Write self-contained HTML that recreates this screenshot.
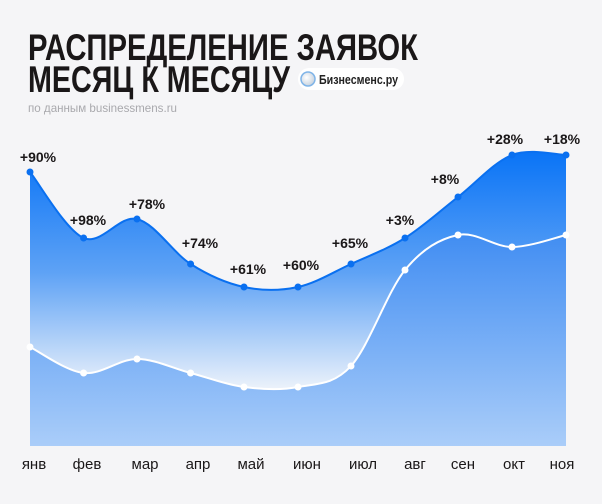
<!DOCTYPE html>
<html><head><meta charset="utf-8"><style>
html,body{margin:0;padding:0;background:#f5f5f7;}
svg{display:block;font-family:"Liberation Sans",sans-serif;}
</style></head><body>
<svg id="s" width="602" height="504" viewBox="0 0 602 504" xmlns="http://www.w3.org/2000/svg">
<defs>
<linearGradient id="gA" x1="0" y1="150" x2="0" y2="395" gradientUnits="userSpaceOnUse">
<stop offset="0" stop-color="#0873f6"/><stop offset="0.5" stop-color="#5ea2f5"/><stop offset="1" stop-color="#f3f6fb"/>
</linearGradient>
<linearGradient id="gB" x1="0" y1="230" x2="0" y2="446" gradientUnits="userSpaceOnUse">
<stop offset="0" stop-color="#3f8cf2"/><stop offset="1" stop-color="#aacdf9"/>
</linearGradient>
<radialGradient id="ic" cx="0.4" cy="0.4" r="0.6"><stop offset="0" stop-color="#ffffff"/><stop offset="1" stop-color="#c9d3de"/></radialGradient>
</defs>
<rect width="602" height="504" fill="#f5f5f7"/>
<text x="28" y="60" font-size="37" font-weight="bold" fill="#1a1718" textLength="390" lengthAdjust="spacingAndGlyphs">РАСПРЕДЕЛЕНИЕ ЗАЯВОК</text>
<text x="28" y="92" font-size="37" font-weight="bold" fill="#1a1718" textLength="262" lengthAdjust="spacingAndGlyphs">МЕСЯЦ К МЕСЯЦУ</text>
<rect x="298" y="68" width="106" height="22" rx="11" fill="#ffffff"/>
<circle cx="308" cy="79" r="7" fill="url(#ic)" stroke="#7fb4e8" stroke-width="1.5"/>
<text x="319" y="84" font-size="13" font-weight="bold" fill="#222" textLength="79" lengthAdjust="spacingAndGlyphs">Бизнесменс.ру</text>
<text x="28" y="112" font-size="12" fill="#a9a9ad" textLength="149" lengthAdjust="spacingAndGlyphs">по данным businessmens.ru</text>
<path id="pA" fill="url(#gA)"/>
<path id="pB" fill="url(#gB)"/>
<path id="lA" fill="none" stroke="#0a70f0" stroke-width="2"/>
<path id="lB" fill="none" stroke="#ffffff" stroke-width="2"/>
<g id="dots"></g>
<g font-size="14" font-weight="bold" fill="#1a1718" text-anchor="middle">
<text x="38" y="162">+90%</text>
<text x="88" y="225">+98%</text>
<text x="147" y="209">+78%</text>
<text x="200" y="248">+74%</text>
<text x="248" y="274">+61%</text>
<text x="301" y="270">+60%</text>
<text x="350" y="248">+65%</text>
<text x="400" y="225">+3%</text>
<text x="445" y="184">+8%</text>
<text x="505" y="144">+28%</text>
<text x="562" y="144">+18%</text>
</g>
<g font-size="15" fill="#1a1718" text-anchor="middle">
<text x="34" y="469">янв</text><text x="87" y="469">фев</text><text x="145" y="469">мар</text>
<text x="198" y="469">апр</text><text x="251" y="469">май</text><text x="307" y="469">июн</text>
<text x="363" y="469">июл</text><text x="415" y="469">авг</text><text x="463" y="469">сен</text>
<text x="514" y="469">окт</text><text x="562" y="469">ноя</text>
</g>
</svg>
<script>
var xs=[30,83.6,137,190.6,244,298,351,405,458,512,566];
var a=[172,238,219,264,287,287,264,238,197,155,155];
var b=[347,373,359,373,387,387,366,270,235,247,235];
function curve(ys,rev){
 var p=xs.map(function(x,i){return [x,ys[i]];});
 if(rev)p=p.slice().reverse();
 var d="";
 for(var i=0;i<p.length-1;i++){
  var p0=p[Math.max(i-1,0)],p1=p[i],p2=p[i+1],p3=p[Math.min(i+2,p.length-1)];
  var t=1/6;
  var c1=[p1[0]+(p2[0]-p0[0])*t,p1[1]+(p2[1]-p0[1])*t];
  var c2=[p2[0]-(p3[0]-p1[0])*t,p2[1]-(p3[1]-p1[1])*t];
  d+=" C"+c1.join(",")+" "+c2.join(",")+" "+p2.join(",");
 }
 return d;
}
var lineA="M30,172"+curve(a,false), lineB="M30,347"+curve(b,false);
document.getElementById("lA").setAttribute("d",lineA);
document.getElementById("lB").setAttribute("d",lineB);
document.getElementById("pA").setAttribute("d",lineA+" L566,235"+curve(b,true)+" Z");
document.getElementById("pB").setAttribute("d",lineB+" L566,446 L30,446 Z");
var g=document.getElementById("dots"),ns="http://www.w3.org/2000/svg";
xs.forEach(function(x,i){
 var c=document.createElementNS(ns,"circle");c.setAttribute("cx",x);c.setAttribute("cy",a[i]);c.setAttribute("r",3.5);c.setAttribute("fill","#0a70f0");g.appendChild(c);
 var w=document.createElementNS(ns,"circle");w.setAttribute("cx",x);w.setAttribute("cy",b[i]);w.setAttribute("r",3.5);w.setAttribute("fill","#ffffff");g.appendChild(w);
});
</script>
</body></html>
